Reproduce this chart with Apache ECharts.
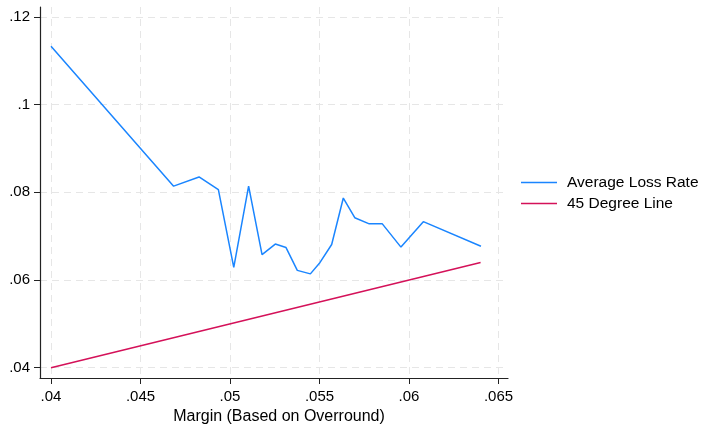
<!DOCTYPE html>
<html>
<head>
<meta charset="utf-8">
<script src="https://cdn.jsdelivr.net/npm/echarts@6/dist/echarts.min.js"></script>
<style>
  html, body { margin: 0; padding: 0; background: #fff; }
  #chart { width: 701px; height: 426px; }
</style>
</head>
<body>
<div id="chart"></div>
<script>
// Margin (overround) values and the average loss rate observed at each
const margin = [0.0400, 0.04685, 0.04827, 0.04935, 0.05021, 0.05104, 0.05179, 0.05253,
                0.05313, 0.05376, 0.05449, 0.05503, 0.05568, 0.05633, 0.05697, 0.05778,
                0.05851, 0.05955, 0.0608, 0.06402];
const lossRate = [0.1133, 0.0814, 0.0835, 0.0806, 0.0629, 0.0814, 0.0658, 0.0682,
                  0.0674, 0.0622, 0.0614, 0.0640, 0.0681, 0.0787, 0.0742, 0.0728,
                  0.0728, 0.0675, 0.0733, 0.0677];
// Reference line y = x over the same margin range
const degreeLine = [[0.04, 0.04], [0.064, 0.064]];

const xTicks = [0.04, 0.045, 0.05, 0.055, 0.06, 0.065];
const yTicks = [0.04, 0.06, 0.08, 0.1, 0.12];

const seriesNames = ['Average Loss Rate', '45 Degree Line'];
const xTitle = 'Margin (Based on Overround)';

const blue = '#1a85ff';
const red = '#d41159';
const font = 'Liberation Sans, Arial, sans-serif';
const axisColor = '#222';
const gridLine = { show: true, lineStyle: { color: '#e6e6e6', type: [7, 5], width: 1 } };

// Stata-style tick labels: drop the leading zero
const fmt = v => String(+v.toFixed(4)).replace(/^0\./, '.');

const chart = echarts.init(document.getElementById('chart'), null, { renderer: 'canvas' });

chart.setOption({
  animation: false,
  backgroundColor: '#ffffff',
  grid: { left: 40, top: 7, width: 468, height: 371, containLabel: false, outerBoundsMode: 'none' },
  legend: {
    orient: 'vertical',
    left: 521,
    top: 173,
    padding: 0,
    icon: 'rect',
    itemWidth: 36,
    itemHeight: 1.6,
    itemGap: 2,
    data: seriesNames,
    textStyle: { fontFamily: font, fontSize: 15.5, color: '#000', lineHeight: 19, padding: [0, 0, 0, 5] }
  },
  xAxis: {
    type: 'value',
    min: 0.039385,
    max: 0.065531,
    name: xTitle,
    nameLocation: 'middle',
    nameGap: 28,
    nameTextStyle: { fontFamily: font, fontSize: 16, color: '#000', padding: [0, 0, 0, 10] },
    axisLine: { show: true, onZero: false, lineStyle: { color: axisColor, width: 1.2 } },
    axisTick: { show: true, length: 6, customValues: xTicks, lineStyle: { color: axisColor } },
    axisLabel: {
      customValues: xTicks,
      margin: 11,
      formatter: fmt,
      fontFamily: font, fontSize: 15, color: '#000'
    },
    splitLine: gridLine
  },
  yAxis: {
    type: 'value',
    min: 0.03765,
    max: 0.12226,
    axisLine: { show: true, onZero: false, lineStyle: { color: axisColor, width: 1.2 } },
    axisTick: { show: true, length: 6, customValues: yTicks, lineStyle: { color: axisColor } },
    axisLabel: {
      customValues: yTicks,
      margin: 10,
      formatter: fmt,
      fontFamily: font, fontSize: 15, color: '#000'
    },
    splitLine: gridLine
  },
  series: [
    {
      name: seriesNames[0],
      type: 'line',
      data: margin.map((m, i) => [m, lossRate[i]]),
      symbol: 'none',
      lineStyle: { color: blue, width: 1.5 },
      itemStyle: { color: blue }
    },
    {
      name: seriesNames[1],
      type: 'line',
      data: degreeLine,
      symbol: 'none',
      lineStyle: { color: red, width: 1.5 },
      itemStyle: { color: red }
    }
  ]
});
</script>
</body>
</html>
